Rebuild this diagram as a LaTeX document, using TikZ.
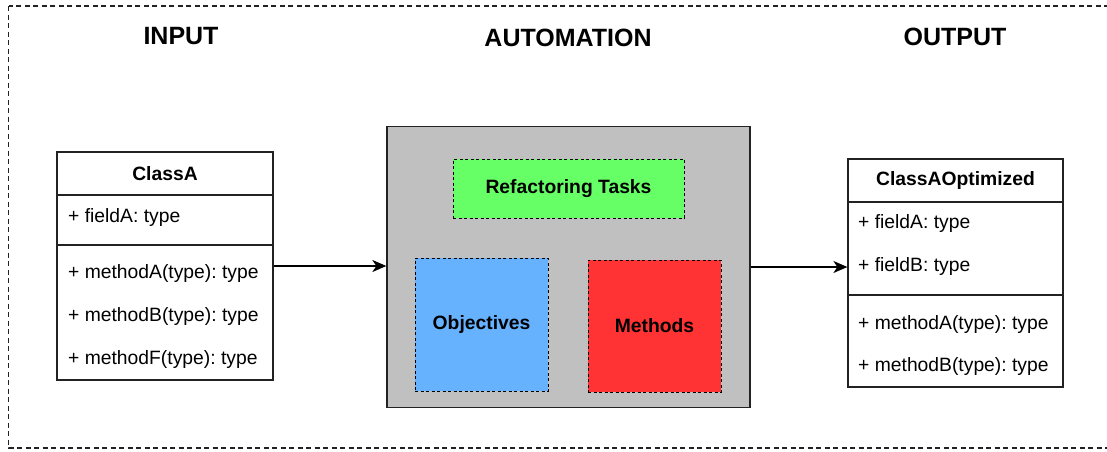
\documentclass[tikz,border=0pt]{standalone}
\usepackage{fontspec}
\setmainfont{Liberation Sans}
\usetikzlibrary{arrows.meta}
\frenchspacing

\definecolor{autogray}{HTML}{C0C0C0}
\definecolor{taskgreen}{HTML}{66FF66}
\definecolor{objblue}{HTML}{66B2FF}
\definecolor{methred}{HTML}{FF3333}
\definecolor{edge}{HTML}{222222}

\tikzset{
  body/.style={font=\fontsize{19.3}{23}\selectfont},
  heading/.style={font=\fontsize{25}{30}\selectfont\bfseries},
  compartment/.style={draw=edge, line width=1.2pt, fill=white, inner sep=0pt},
  member/.style={body, anchor=west, inner sep=0pt},
  classtitle/.style={body, font=\fontsize{19.3}{23}\selectfont\bfseries},
  taskbox/.style={draw=black, line width=1pt, dash pattern=on 3pt off 2.5pt,
    inner sep=0pt, font=\fontsize{19.3}{23}\selectfont\bfseries},
  flow/.style={draw=black, line width=1.4pt,
    -{Stealth[length=14pt, width=12pt, inset=4pt]}},
}

\begin{document}
\begin{tikzpicture}[x=1pt, y=-1pt]
  \useasboundingbox (0,0) rectangle (1107,451);

  % dashed frame around the whole process
  \begin{scope}
    \clip (0,0) rectangle (1107,451);
    \draw[edge, line width=1.2pt, dash pattern=on 5pt off 3.5pt]
      (8.7,6) rectangle (1120,448);
  \end{scope}

  % column headings
  \node[heading] (hin)  at (181,36)   {INPUT};
  \node[heading] (hauto) at (568,38)  {AUTOMATION};
  \node[heading] (hout) at (955,36.5) {OUTPUT};

  % ---- ClassA (input class) ----
  \node[compartment, minimum width=216pt, minimum height=228pt] (classA) at (165,266) {};
  \node[compartment, minimum width=216pt, minimum height=43pt] (aHead) at (165,173.5) {};
  \node[compartment, minimum width=216pt, minimum height=50pt] (aFields) at (165,220) {};
  \node[compartment, minimum width=216pt, minimum height=135pt] (aMethods) at (165,312.5) {};
  \node[classtitle] (aName) at (165,173.5) {ClassA};
  \node[member] (aF1) at (68,218) {+ fieldA: type};
  \node[member] (aM1) at (68,274) {+ methodA(type): type};
  \node[member] (aM2) at (68,316) {+ methodB(type): type};
  \node[member] (aM3) at (68,359) {+ methodF(type): type};

  % ---- automation block ----
  \node[draw=edge, line width=1.3pt, fill=autogray, inner sep=0pt,
        minimum width=363pt, minimum height=281pt] (auto) at (568.5,267) {};
  \node[taskbox, fill=taskgreen, minimum width=231pt, minimum height=59pt]
    (tasks) at (568.5,188.5) {Refactoring Tasks};
  \node[taskbox, fill=objblue, minimum width=133pt, minimum height=133pt]
    (objectives) at (481.5,324.5) {Objectives};
  \node[taskbox, fill=methred, minimum width=133pt, minimum height=132pt]
    (methods) at (654.5,326) {Methods};

  % ---- ClassAOptimized (output class) ----
  \node[compartment, minimum width=215pt, minimum height=228pt] (classB) at (955.5,273) {};
  \node[compartment, minimum width=215pt, minimum height=43pt] (bHead) at (955.5,180.5) {};
  \node[compartment, minimum width=215pt, minimum height=93pt] (bFields) at (955.5,248.5) {};
  \node[compartment, minimum width=215pt, minimum height=92pt] (bMethods) at (955.5,341) {};
  \node[classtitle] (bName) at (955.5,180.5) {ClassAOptimized};
  \node[member] (bF1) at (858,224) {+ fieldA: type};
  \node[member] (bF2) at (858,267) {+ fieldB: type};
  \node[member] (bM1) at (858,324) {+ methodA(type): type};
  \node[member] (bM2) at (858,366) {+ methodB(type): type};

  % ---- connectors ----
  \draw[flow] (classA.east) -- (classA.east -| auto.west);
  \draw[flow] (auto.east) -- (auto.east -| classB.west);
\end{tikzpicture}
\end{document}
